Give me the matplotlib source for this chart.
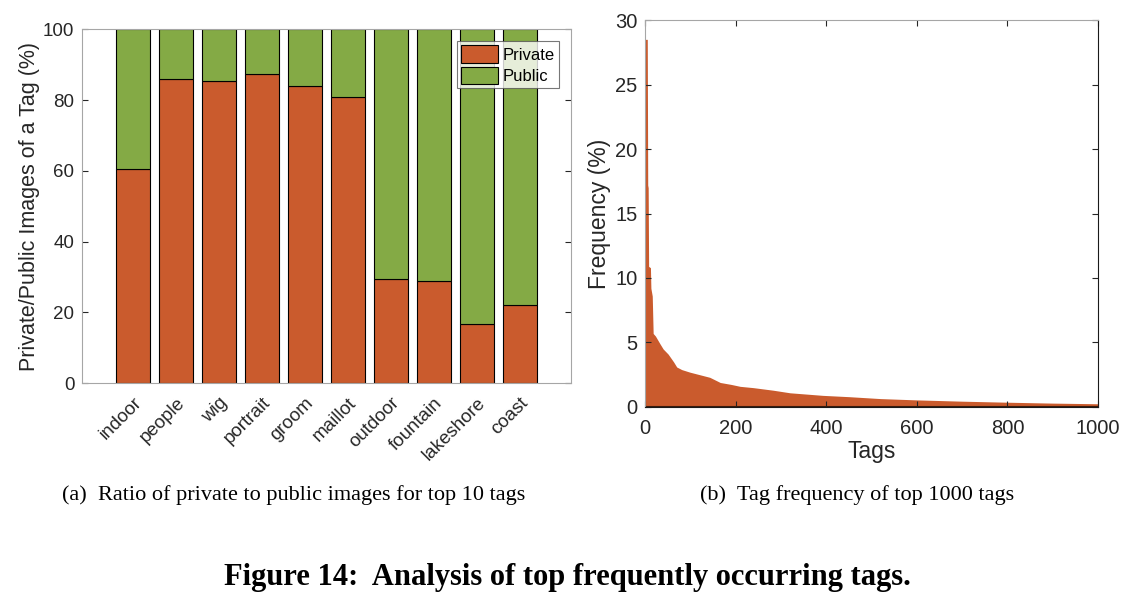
import matplotlib.pyplot as plt

# Top 10 tags: share of private images (%), public = 100 - private
tags10 = ['indoor', 'people', 'wig', 'portrait', 'groom',
          'maillot', 'outdoor', 'fountain', 'lakeshore', 'coast']
private = [60.6, 86.0, 85.4, 87.5, 84.0, 81.0, 29.5, 28.9, 16.8, 22.2]
public = [100 - p for p in private]

# Tag frequency of top 1000 tags (read at breakpoints)
tag_rank = [0, 5, 6, 7, 8, 12, 13, 16, 18, 23, 33, 40, 51, 57, 63,
            70, 81, 99, 121, 143, 166, 190, 210, 239, 283, 320, 393, 450, 520,
            600, 700, 800, 900, 1000]
tag_freq = [28.5, 28.5, 17.2, 17.0, 10.9, 10.8, 9.2, 8.6, 5.7, 5.5, 4.9, 4.5,
            4.1, 3.8, 3.5, 3.1, 2.9, 2.7, 2.5, 2.3, 1.9, 1.75,
            1.6, 1.5, 1.3, 1.1, 0.9, 0.8, 0.65, 0.55, 0.45, 0.37, 0.3, 0.25]

orange = '#CA5B2D'
green = '#84AA45'
spine_gray = '#A6A6A6'
text_col = '#262626'

plt.rcParams['font.family'] = ['Liberation Sans', 'DejaVu Sans']
plt.rcParams['font.size'] = 12

fig = plt.figure(figsize=(11.3, 6.1), dpi=100)

# (a) stacked bars
ax1 = fig.add_axes([0.0726, 0.372, 0.4327, 0.580])
pos = list(range(1, len(tags10) + 1))
ax1.bar(pos, private, width=0.8, color=orange, edgecolor='black', linewidth=0.8, label='Private')
ax1.bar(pos, public, bottom=private, width=0.8, color=green, edgecolor='black', linewidth=0.8, label='Public')
ax1.set_xlim(-0.19, 11.19)
ax1.set_ylim(0, 100)
ax1.set_yticks(range(0, 101, 20))
ax1.set_xticks(pos)
ax1.set_xticklabels(tags10, rotation=45, ha='right', rotation_mode='anchor')
ax1.set_ylabel('Private/Public Images of a Tag (%)', color=text_col, fontsize=15.5, labelpad=2)
ax1.tick_params(direction='in', right=True, length=4, colors=text_col, labelsize=13.5)
ax1.tick_params(axis='y', pad=5.5)
ax1.tick_params(axis='x', length=0, pad=8)
for s in ax1.spines.values():
    s.set_color(spine_gray)
leg = ax1.legend(loc='upper right', bbox_to_anchor=(0.976, 0.966), fancybox=False,
                 edgecolor='#555555', fontsize=12, handlelength=2.2, handleheight=1.2,
                 borderpad=0.25, labelspacing=0.25, handletextpad=0.3, borderaxespad=0)
leg.get_frame().set_linewidth(0.8)
for h in leg.legend_handles:
    h.set_edgecolor('black')

# (b) area plot
ax2 = fig.add_axes([0.5708, 0.3328, 0.4009, 0.6344])
ax2.fill_between(tag_rank, tag_freq, 0, color=orange, linewidth=0)
ax2.vlines(tag_rank[0], 0, tag_freq[0], color='#7a2e12', linewidth=1.2)
ax2.hlines(0, tag_rank[0], tag_rank[-1], color='#3a1a0c', linewidth=1.5)
ax2.set_xlim(0, 1000)
ax2.set_ylim(0, 30)
ax2.set_xticks(range(0, 1001, 200))
ax2.set_yticks(range(0, 31, 5))
ax2.set_xlabel('Tags', color=text_col, fontsize=16.5, labelpad=1)
ax2.set_ylabel('Frequency (%)', color=text_col, fontsize=16.5, labelpad=3)
ax2.tick_params(direction='in', right=True, top=True, length=4, colors=text_col, labelsize=14.5)
ax2.tick_params(axis='x', pad=9)
ax2.tick_params(axis='y', pad=5.5)
for s in ax2.spines.values():
    s.set_color(spine_gray)
ax2.spines['right'].set_color('#1a1a1a')
ax2.spines['bottom'].set_color('#1a1a1a')

# captions
serif = ['Liberation Serif', 'DejaVu Serif']
fig.text(294 / 1130, 1 - 495 / 610, '(a)  Ratio of private to public images for top 10 tags',
         ha='center', va='center', fontsize=16, family=serif)
fig.text(857 / 1130, 1 - 495 / 610, '(b)  Tag frequency of top 1000 tags',
         ha='center', va='center', fontsize=16, family=serif)
fig.text(567 / 1130, 1 - 577 / 610, 'Figure 14:  Analysis of top frequently occurring tags.',
         ha='center', va='center', fontsize=22, fontweight='bold', family=serif)

fig.savefig('out.png', dpi=100)
